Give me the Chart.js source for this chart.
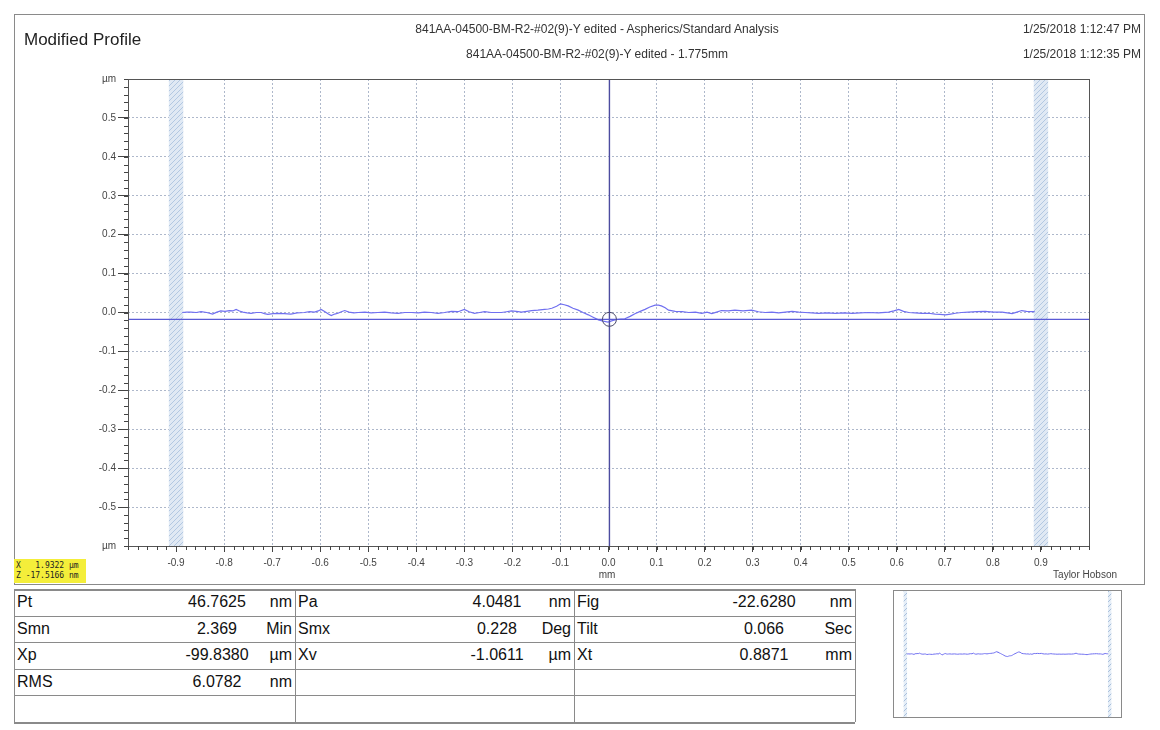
<!DOCTYPE html>
<html>
<head>
<meta charset="utf-8">
<script src="https://cdn.jsdelivr.net/npm/chart.js@4.4.1/dist/chart.umd.min.js"></script>
<style>
  html,body{margin:0;padding:0;background:#fff;}
  body{width:1160px;height:730px;position:relative;overflow:hidden;font-family:"Liberation Sans",Arial,sans-serif;color:#222;}
  .abs{position:absolute;white-space:nowrap;}
  #frame{left:14px;top:14px;width:1131px;height:571px;border:1px solid #8a8a8a;box-sizing:border-box;}
  #main{position:absolute;left:0;top:0;}
  #insetBox{left:893px;top:590px;width:229px;height:128px;border:1px solid #8a8a8a;box-sizing:border-box;}
  .t{font-size:16px;line-height:18px;color:#111;}
  .hl{position:absolute;height:0;border-top:1px solid #8a8a8a;}
  .vl{position:absolute;width:0;border-left:1px solid #8a8a8a;}
</style>
</head>
<body>
<div id="frame" class="abs"></div>
<canvas id="main" width="1160" height="590"></canvas>

<div class="abs" style="left:24px;top:30px;font-size:17px;line-height:20px;color:#222;">Modified Profile</div>
<div class="abs" style="left:397px;width:400px;text-align:center;top:22px;font-size:12px;line-height:14px;color:#333;">841AA-04500-BM-R2-#02(9)-Y edited - Aspherics/Standard Analysis</div>
<div class="abs" style="left:397px;width:400px;text-align:center;top:47px;font-size:12px;line-height:14px;color:#333;">841AA-04500-BM-R2-#02(9)-Y edited - 1.775mm</div>
<div class="abs" style="right:19px;top:22px;font-size:12px;line-height:14px;color:#333;text-align:right;">1/25/2018 1:12:47 PM</div>
<div class="abs" style="right:19px;top:47px;font-size:12px;line-height:14px;color:#333;text-align:right;">1/25/2018 1:12:35 PM</div>

<div class="abs" style="left:597px;width:20px;text-align:center;top:569px;font-size:10px;line-height:12px;color:#444;">mm</div>
<div class="abs" style="right:43px;top:569px;font-size:10px;line-height:12px;color:#444;text-align:right;">Taylor Hobson</div>

<div class="abs" style="left:14px;top:559px;width:72px;height:24px;background:#f4ee3a;font-family:'DejaVu Sans Mono',monospace;font-size:8px;line-height:10px;color:#222;padding:2px 0 0 2px;box-sizing:border-box;white-space:pre;" id="cursorBox"></div>

<div id="table"></div>

<div id="insetBox" class="abs"><canvas id="inset" width="227" height="126"></canvas></div>

<script>
// ---------- data ----------
const profileX = [
 -0.887,-0.878,-0.869,-0.858,-0.848,-0.836,-0.824,-0.815,-0.807,-0.798,
 -0.789,-0.782,-0.775,-0.768,-0.761,-0.752,-0.744,-0.733,-0.723,-0.716,
 -0.709,-0.698,-0.688,-0.675,-0.661,-0.648,-0.633,-0.622,-0.612,-0.604,
 -0.598,-0.590,-0.583,-0.577,-0.570,-0.563,-0.556,-0.549,-0.540,-0.530,
 -0.521,-0.507,-0.494,-0.480,-0.466,-0.452,-0.438,-0.424,-0.410,-0.396,
 -0.383,-0.369,-0.355,-0.341,-0.327,-0.313,-0.300,-0.290,-0.279,-0.268,
 -0.258,-0.244,-0.230,-0.223,-0.212,-0.202,-0.192,-0.181,-0.170,-0.160,
 -0.147,-0.133,-0.125,-0.118,-0.108,-0.0998,-0.092,-0.084,-0.074,-0.063,
 -0.053,-0.042,-0.032,-0.021,-0.011,-0.001,0.008,0.017,0.026,0.034,
 0.045,0.055,0.066,0.076,0.086,0.097,0.104,0.110,0.118,0.125,
 0.139,0.153,0.167,0.181,0.194,0.205,0.215,0.225,0.235,0.249,
 0.263,0.280,0.298,0.312,0.326,0.340,0.354,0.368,0.382,0.396,
 0.409,0.423,0.437,0.455,0.472,0.490,0.507,0.524,0.541,0.562,
 0.583,0.594,0.604,0.614,0.625,0.638,0.652,0.666,0.680,0.690,
 0.701,0.712,0.722,0.735,0.749,0.766,0.784,0.801,0.819,0.830,
 0.840,0.850,0.860,0.870,0.881,0.887
];
const profileZ = [
 0.000,0.001,0.001,0.000,0.002,0.000,-0.004,0.001,0.004,0.003,
 0.005,0.004,0.008,0.004,0.001,-0.001,-0.002,0.000,0.000,-0.003,
 -0.005,-0.003,-0.002,-0.003,-0.004,-0.001,0.000,0.002,0.001,0.004,
 0.008,0.002,-0.004,-0.008,-0.004,-0.002,0.002,0.005,0.001,-0.001,
 0.000,0.001,-0.001,0.000,0.001,-0.001,-0.002,0.000,0.000,-0.001,
 0.001,0.000,-0.002,0.000,0.003,0.002,0.008,0.002,-0.002,0.000,
 0.002,0.000,0.000,0.000,0.002,0.004,0.003,0.001,0.003,0.005,
 0.006,0.008,0.009,0.011,0.016,0.0222,0.020,0.017,0.011,0.006,
 0.000,-0.006,-0.012,-0.019,-0.022,-0.0245,-0.021,-0.018,-0.017,-0.016,
 -0.010,-0.003,0.003,0.008,0.014,0.019,0.019,0.017,0.012,0.006,
 0.003,0.002,0.000,0.001,-0.002,0.001,-0.003,0.001,0.005,0.004,
 0.006,0.004,0.006,0.002,0.000,0.001,-0.001,0.001,0.003,0.001,
 0.000,-0.001,-0.002,-0.001,-0.002,-0.001,-0.002,-0.001,0.000,-0.001,
 0.001,0.004,0.008,0.003,0.000,-0.001,-0.002,-0.002,-0.004,-0.005,
 -0.006,-0.004,-0.002,0.000,0.001,0.002,0.003,0.001,0.001,-0.001,
 -0.003,0.001,0.005,0.003,0.002,0.002
];
const xTickStep = 0.1, yTickStep = 0.1, minorStep = 0.02;
const xRange = [-1.0, 1.0];            // mm
const yRange = [-0.6, 0.6];            // µm
const bandRanges = [[-0.915,-0.885],[0.885,0.915]];
const cursorX = 0.0019322;             // mm
const cursorZ = -0.0175166;            // µm
const cursorLines = ["X   1.9322 µm", "Z -17.5166 nm"];

const statLabels = [["Pt","Smn","Xp","RMS",""],["Pa","Smx","Xv","",""],["Fig","Tilt","Xt","",""]];
const statValues = [["46.7625","2.369","-99.8380","6.0782",""],["4.0481","0.228","-1.0611","",""],["-22.6280","0.066","0.8871","",""]];
const statUnits  = [["nm","Min","µm","nm",""],["nm","Deg","µm","",""],["nm","Sec","mm","",""]];

// ---------- helpers ----------
function fmt(v){ const r = Math.round(v*10)/10; return Math.abs(r)<1e-9 ? "0.0" : r.toFixed(1); }
function makeHatch(bg, fg){
  const c = document.createElement('canvas'); c.width = 5; c.height = 5;
  const g = c.getContext('2d');
  g.fillStyle = bg; g.fillRect(0,0,5,5);
  g.strokeStyle = fg; g.lineWidth = 1;
  g.beginPath(); g.moveTo(-1,6); g.lineTo(6,-1); g.moveTo(-3,3); g.lineTo(3,-3); g.moveTo(2,8); g.lineTo(8,2); g.stroke();
  return g.createPattern(c, 'repeat');
}
const pts = profileX.map((x,i)=>({x:x, y:profileZ[i]}));

// ---------- main chart ----------
const mainCtx = document.getElementById('main').getContext('2d');
const hatchMain = makeHatch('#e0e9f4', '#b3c8e2');

const decor = {
  id: 'decor',
  beforeDatasetsDraw(chart){
    const {ctx, chartArea:a, scales:{x}} = chart;
    ctx.save();
    ctx.fillStyle = hatchMain;
    bandRanges.forEach(([l,r])=>{
      const x1 = x.getPixelForValue(l), x2 = x.getPixelForValue(r);
      ctx.fillRect(x1, a.top, x2-x1, a.bottom-a.top);
    });
    ctx.restore();
  },
  afterDatasetsDraw(chart){
    const {ctx, chartArea:a, scales:{x,y}} = chart;
    ctx.save();
    const cx = x.getPixelForValue(cursorX), cy = y.getPixelForValue(cursorZ);
    ctx.strokeStyle = '#4c4ca0'; ctx.lineWidth = 1.4;
    ctx.beginPath(); ctx.moveTo(cx, a.top); ctx.lineTo(cx, a.bottom); ctx.stroke();
    ctx.strokeStyle = '#5a5ad6'; ctx.lineWidth = 1.2;
    ctx.beginPath(); ctx.moveTo(a.left, cy); ctx.lineTo(a.right, cy); ctx.stroke();
    ctx.strokeStyle = '#4a4a6a'; ctx.lineWidth = 1;
    ctx.beginPath(); ctx.arc(cx, cy, 7, 0, Math.PI*2); ctx.stroke();
    ctx.strokeStyle = '#555'; ctx.lineWidth = 1;
    ctx.strokeRect(Math.round(a.left)+0.5, Math.round(a.top)+0.5, Math.round(a.right-a.left), Math.round(a.bottom-a.top));
    ctx.strokeStyle = '#444'; ctx.lineWidth = 1;
    ctx.beginPath();
    for (let i = Math.round(y.min/minorStep); i <= Math.round(y.max/minorStep); i++){
      const py = Math.round(y.getPixelForValue(i*minorStep))+0.5;
      ctx.moveTo(a.left-4, py); ctx.lineTo(a.left, py);
    }
    for (let i = Math.round(x.min/minorStep); i <= Math.round(x.max/minorStep); i++){
      const px = Math.round(x.getPixelForValue(i*minorStep))+0.5;
      ctx.moveTo(px, a.bottom); ctx.lineTo(px, a.bottom+4);
    }
    ctx.stroke();
    ctx.restore();
  }
};

new Chart(mainCtx, {
  type: 'line',
  data: { datasets: [{ data: pts, borderColor: '#7070f0', borderWidth: 1.2, pointRadius: 0, fill: false, tension: 0 }] },
  options: {
    responsive: false, animation: false, events: [],
    layout: { padding: { left: 88, top: 79, right: 71, bottom: 14 } },
    plugins: { legend: { display: false }, tooltip: { enabled: false } },
    scales: {
      x: {
        type: 'linear', min: xRange[0], max: xRange[1],
        afterFit(s){ s.height = 30; },
        ticks: { stepSize: xTickStep, autoSkip: false, maxRotation: 0, padding: 5, color: '#444',
          font: { family: 'Liberation Sans', size: 10 },
          callback(v){ return Math.abs(Math.abs(v)-1) < 1e-6 ? '' : fmt(v); } },
        grid: {
          color(c){ const v = c.tick ? c.tick.value : 0; return (Math.abs(v) < 1e-6 || Math.abs(Math.abs(v)-1) < 1e-6) ? 'rgba(0,0,0,0)' : '#aeb8cb'; },
          tickColor(c){ const v = c.tick ? c.tick.value : 0; return Math.abs(Math.abs(v)-1) < 1e-6 ? 'rgba(0,0,0,0)' : '#444'; },
          tickLength: 6, lineWidth: 1
        },
        border: { display: false, dash: [2,2] }
      },
      y: {
        type: 'linear', min: yRange[0], max: yRange[1],
        afterFit(s){ s.width = 40; },
        ticks: { stepSize: yTickStep, autoSkip: false, padding: 2, color: '#444',
          font: { family: 'Liberation Sans', size: 10 },
          callback(v){ return Math.abs(Math.abs(v)-0.6) < 1e-6 ? 'µm' : fmt(v); } },
        grid: {
          color(c){ const v = c.tick ? c.tick.value : 0; return Math.abs(Math.abs(v)-0.6) < 1e-6 ? 'rgba(0,0,0,0)' : '#aeb8cb'; },
          tickColor(c){ const v = c.tick ? c.tick.value : 0; return Math.abs(Math.abs(v)-0.6) < 1e-6 ? 'rgba(0,0,0,0)' : '#444'; },
          tickLength: 10, lineWidth: 1
        },
        border: { display: false, dash: [2,2] }
      }
    }
  },
  plugins: [decor]
});

// ---------- inset chart ----------
const hatchInset = makeHatch('#e6eef7', '#a9c0dc');
const insetDecor = {
  id: 'insetDecor',
  beforeDatasetsDraw(chart){
    const {ctx, chartArea:a, scales:{x}} = chart;
    ctx.save();
    ctx.fillStyle = hatchInset;
    bandRanges.forEach(([l,r])=>{
      const x1 = x.getPixelForValue(l), x2 = x.getPixelForValue(r);
      ctx.fillRect(x1, a.top, Math.max(3, x2-x1), a.bottom-a.top);
    });
    ctx.restore();
  }
};
new Chart(document.getElementById('inset').getContext('2d'), {
  type: 'line',
  data: { datasets: [{ data: pts, borderColor: '#7070f0', borderWidth: 1, pointRadius: 0, fill: false, tension: 0 }] },
  options: {
    responsive: false, animation: false, events: [],
    layout: { padding: 0 },
    plugins: { legend: { display: false }, tooltip: { enabled: false } },
    scales: {
      x: { type: 'linear', min: xRange[0], max: xRange[1], display: false },
      y: { type: 'linear', min: yRange[0], max: yRange[1], display: false }
    }
  },
  plugins: [insetDecor]
});

// ---------- cursor box ----------
document.getElementById('cursorBox').textContent = cursorLines.join('\n');

// ---------- statistics table ----------
(function(){
  const host = document.getElementById('table');
  const groupLeft = [14, 295, 574], groupRight = [295, 574, 855];
  const valueCenter = [203, 202, 190];
  const top = 589, rowH = 26.6, nRows = 5;
  for (let g = 0; g < 3; g++){
    for (let r = 0; r < nRows; r++){
      const y = top + r*rowH + 4;
      const L = document.createElement('div'); L.className = 'abs t';
      L.style.left = (groupLeft[g]+3)+'px'; L.style.top = y+'px'; L.textContent = statLabels[g][r];
      host.appendChild(L);
      const V = document.createElement('div'); V.className = 'abs t';
      V.style.left = (groupLeft[g]+valueCenter[g]-60)+'px'; V.style.width = '120px'; V.style.textAlign = 'center';
      V.style.top = y+'px'; V.textContent = statValues[g][r];
      host.appendChild(V);
      const U = document.createElement('div'); U.className = 'abs t';
      U.style.left = (groupRight[g]-63)+'px'; U.style.width = '60px'; U.style.textAlign = 'right';
      U.style.top = y+'px'; U.textContent = statUnits[g][r];
      host.appendChild(U);
    }
  }
  for (let r = 0; r <= nRows; r++){
    const h = document.createElement('div'); h.className = 'hl';
    h.style.left = '14px'; h.style.width = '841px'; h.style.top = Math.round(top + r*rowH)+'px';
    h.style.borderTopWidth = (r===0||r===nRows) ? '2px' : '1px';
    host.appendChild(h);
  }
  [14, 295, 574, 855].forEach((x)=>{
    const v = document.createElement('div'); v.className = 'vl';
    v.style.left = x+'px'; v.style.top = top+'px'; v.style.height = Math.round(rowH*nRows)+'px';
    host.appendChild(v);
  });
})();
</script>
</body>
</html>
